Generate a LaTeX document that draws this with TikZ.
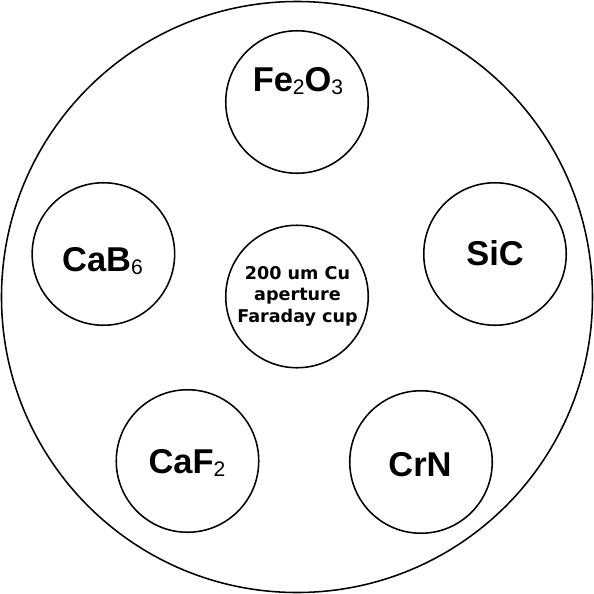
\documentclass[tikz,border=0pt]{standalone}
\usepackage{fontspec}
\setmainfont{Liberation Sans}
\newfontfamily\cupfont{DejaVu Sans}
\usepackage{tikz}
\newcommand{\chemsub}[1]{\raisebox{-2.5pt}{\fontsize{15pt}{15pt}\mdseries\selectfont #1}}

\begin{document}
\begin{tikzpicture}[x=0.25mm, y=-0.25mm,
    well/.style={draw, circle, line width=1.1pt, minimum size=3.5625cm, inner sep=0pt},
    chem/.style={anchor=base, inner sep=0pt, font=\fontsize{24.5pt}{28pt}\bfseries\selectfont},
    cuptext/.style={align=center, inner sep=0pt, font=\cupfont\fontsize{12.5pt}{15.2pt}\bfseries\selectfont}]
    \useasboundingbox (0,0) rectangle (594,594);
    \node[draw, circle, line width=1.1pt, minimum size=14.775cm, inner sep=0pt] (holder) at (297,297) {};
    \node[well] (fe) at (297,102) {};
    \node[well] (cab) at (103.4,254) {};
    \node[well] (sic) at (495,254) {};
    \node[well] (cup) at (297,296.5) {};
    \node[well] (caf) at (187.5,461) {};
    \node[well] (crn) at (421,462) {};
    \node[chem] (feLabel) at (298,91) {Fe\chemsub{2}O\chemsub{3}};
    \node[chem] (cabLabel) at (102.5,271) {CaB\chemsub{6}};
    \node[chem] (sicLabel) at (495,265.7) {SiC};
    \node[chem] (cafLabel) at (187,473) {CaF\chemsub{2}};
    \node[chem] (crnLabel) at (420,476) {CrN};
    \node[cuptext] (cupLabel) at (297.5,296) {200 um Cu\\aperture\\Faraday cup};
\end{tikzpicture}
\end{document}
